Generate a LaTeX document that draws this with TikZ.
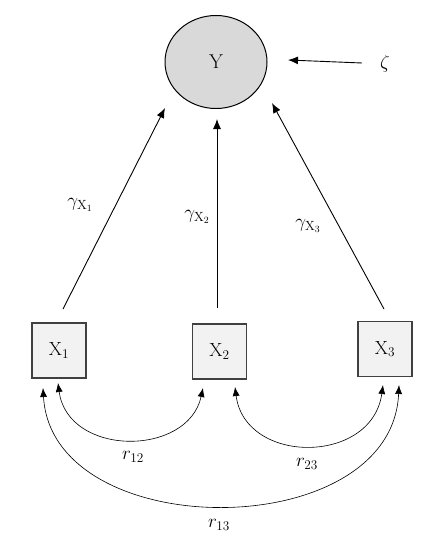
\RequirePackage{fix-cm}
\documentclass[tikz,border=0pt]{standalone}
\usepackage{fontspec}
\usetikzlibrary{arrows.meta,shapes.geometric}
\definecolor{latfill}{HTML}{D9D9D9}
\definecolor{obsfill}{HTML}{F2F2F2}
\definecolor{edge}{HTML}{404040}
\begin{document}
\begin{tikzpicture}[x=1pt,y=-1pt,
  latent/.style={ellipse,draw=black,line width=1pt,fill=latfill,minimum width=102pt,minimum height=93pt,inner sep=0pt,font=\fontsize{20}{24}\selectfont},
  observed/.style={rectangle,draw=edge,line width=1.3pt,fill=obsfill,minimum width=54pt,minimum height=55pt,inner sep=0pt,font=\fontsize{19}{22}\selectfont},
  causal/.style={line width=0.9pt,-{Latex[length=10pt,width=8pt]}},
  cov/.style={line width=0.6pt,{Latex[length=9pt,width=7pt]}-{Latex[length=9pt,width=7pt]}},
  lbl/.style={font=\fontsize{19}{22}\selectfont,inner sep=0pt}]
\useasboundingbox (0,0) rectangle (431,554);
\node[latent] (y) at (216,62) {Y};
\node[observed] (x1) at (59,350.5) {X$_1$};
\node[observed] (x2) at (219.5,351.5) {X$_2$};
\node[observed] (x3) at (385,349) {X$_3$};
\node[lbl] (zeta) at (385,64) {$\zeta$};
\coordinate (zs) at (362,63);
\coordinate (ze) at (288,60);
\coordinate (s1) at (63,309);
\coordinate (s2) at (217,308);
\coordinate (s3) at (384,309);
\coordinate (e1) at (165,108);
\coordinate (e2) at (217,119);
\coordinate (e3) at (272,103);
\draw[causal] (zs) -- (ze);
\draw[causal] (s1) -- (e1);
\draw[causal] (s2) -- (e2);
\draw[causal] (s3) -- (e3);
\node[lbl] (g1) at (80,205) {$\gamma_{\mathrm{X}_1}$};
\node[lbl] (g2) at (197,217) {$\gamma_{\mathrm{X}_2}$};
\node[lbl] (g3) at (308,226) {$\gamma_{\mathrm{X}_3}$};
\coordinate (a1) at (58,383);
\coordinate (a2) at (203,388);
\coordinate (b2) at (235,387);
\coordinate (b3) at (383,385);
\coordinate (c1) at (43,388);
\coordinate (c3) at (399,385);
\draw[cov] (a1) .. controls (68,457) and (188,457) .. (a2);
\draw[cov] (b2) .. controls (245,465) and (372,465) .. (b3);
\draw[cov] (c1) .. controls (52,545) and (392,545) .. (c3);
\node[lbl] (r12) at (133,457) {$r_{12}$};
\node[lbl] (r23) at (307,464) {$r_{23}$};
\node[lbl] (r13) at (219,525) {$r_{13}$};
\end{tikzpicture}
\end{document}
